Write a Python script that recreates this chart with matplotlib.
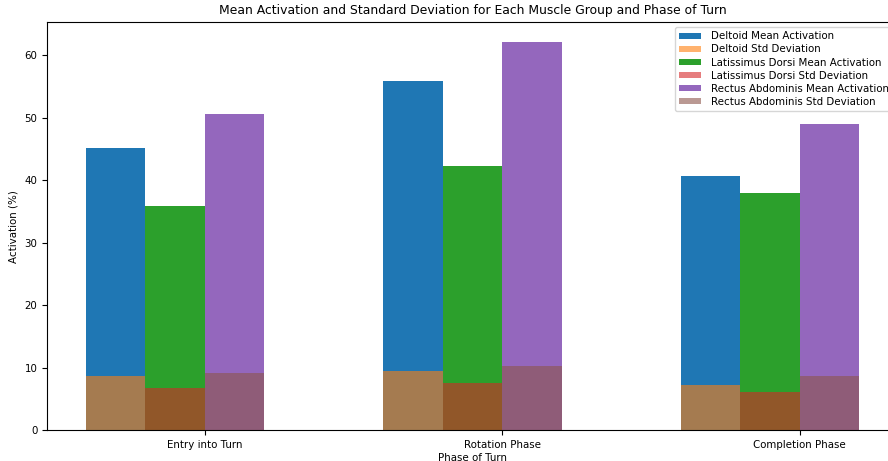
import numpy as np
import matplotlib
matplotlib.use("Agg")
import matplotlib.pyplot as plt

plt.rcParams['font.size'] = 7.4

fases = ['Entry into Turn', 'Rotation Phase', 'Completion Phase']

deltoid_mean = [45.2, 55.9, 40.6]
deltoid_std = [8.7, 9.4, 7.2]
lat_mean = [35.9, 42.3, 38.0]
lat_std = [6.8, 7.5, 6.1]
rectus_mean = [50.6, 62.2, 49.0]
rectus_std = [9.2, 10.3, 8.6]

x = np.arange(len(fases))
largura = 0.2

fig = plt.figure(figsize=(8.88, 4.61), dpi=100)
ax = fig.add_axes([0.053, 0.067, 0.958, 0.885])  # direita passa da borda, como no original

ax.bar(x - 0.3, deltoid_mean, largura, label='Deltoid Mean Activation', color='tab:blue')
ax.bar(x - 0.3, deltoid_std, largura, label='Deltoid Std Deviation', color='tab:orange', alpha=0.6)
ax.bar(x - 0.1, lat_mean, largura, label='Latissimus Dorsi Mean Activation', color='tab:green')
ax.bar(x - 0.1, lat_std, largura, label='Latissimus Dorsi Std Deviation', color='tab:red', alpha=0.6)
ax.bar(x + 0.1, rectus_mean, largura, label='Rectus Abdominis Mean Activation', color='tab:purple')
ax.bar(x + 0.1, rectus_std, largura, label='Rectus Abdominis Std Deviation', color='tab:brown', alpha=0.6)

ax.set_xticks(x)
ax.set_xticklabels(fases)
ax.set_xlabel('Phase of Turn', labelpad=2)
ax.set_ylabel('Activation (%)')
ax.set_title('Mean Activation and Standard Deviation for Each Muscle Group and Phase of Turn')
ax.legend(loc='upper right', labelspacing=0.3, handlelength=2.2, handleheight=0.5,
          borderpad=0.4, handletextpad=0.9)

fig.savefig('out.png', dpi=100)
